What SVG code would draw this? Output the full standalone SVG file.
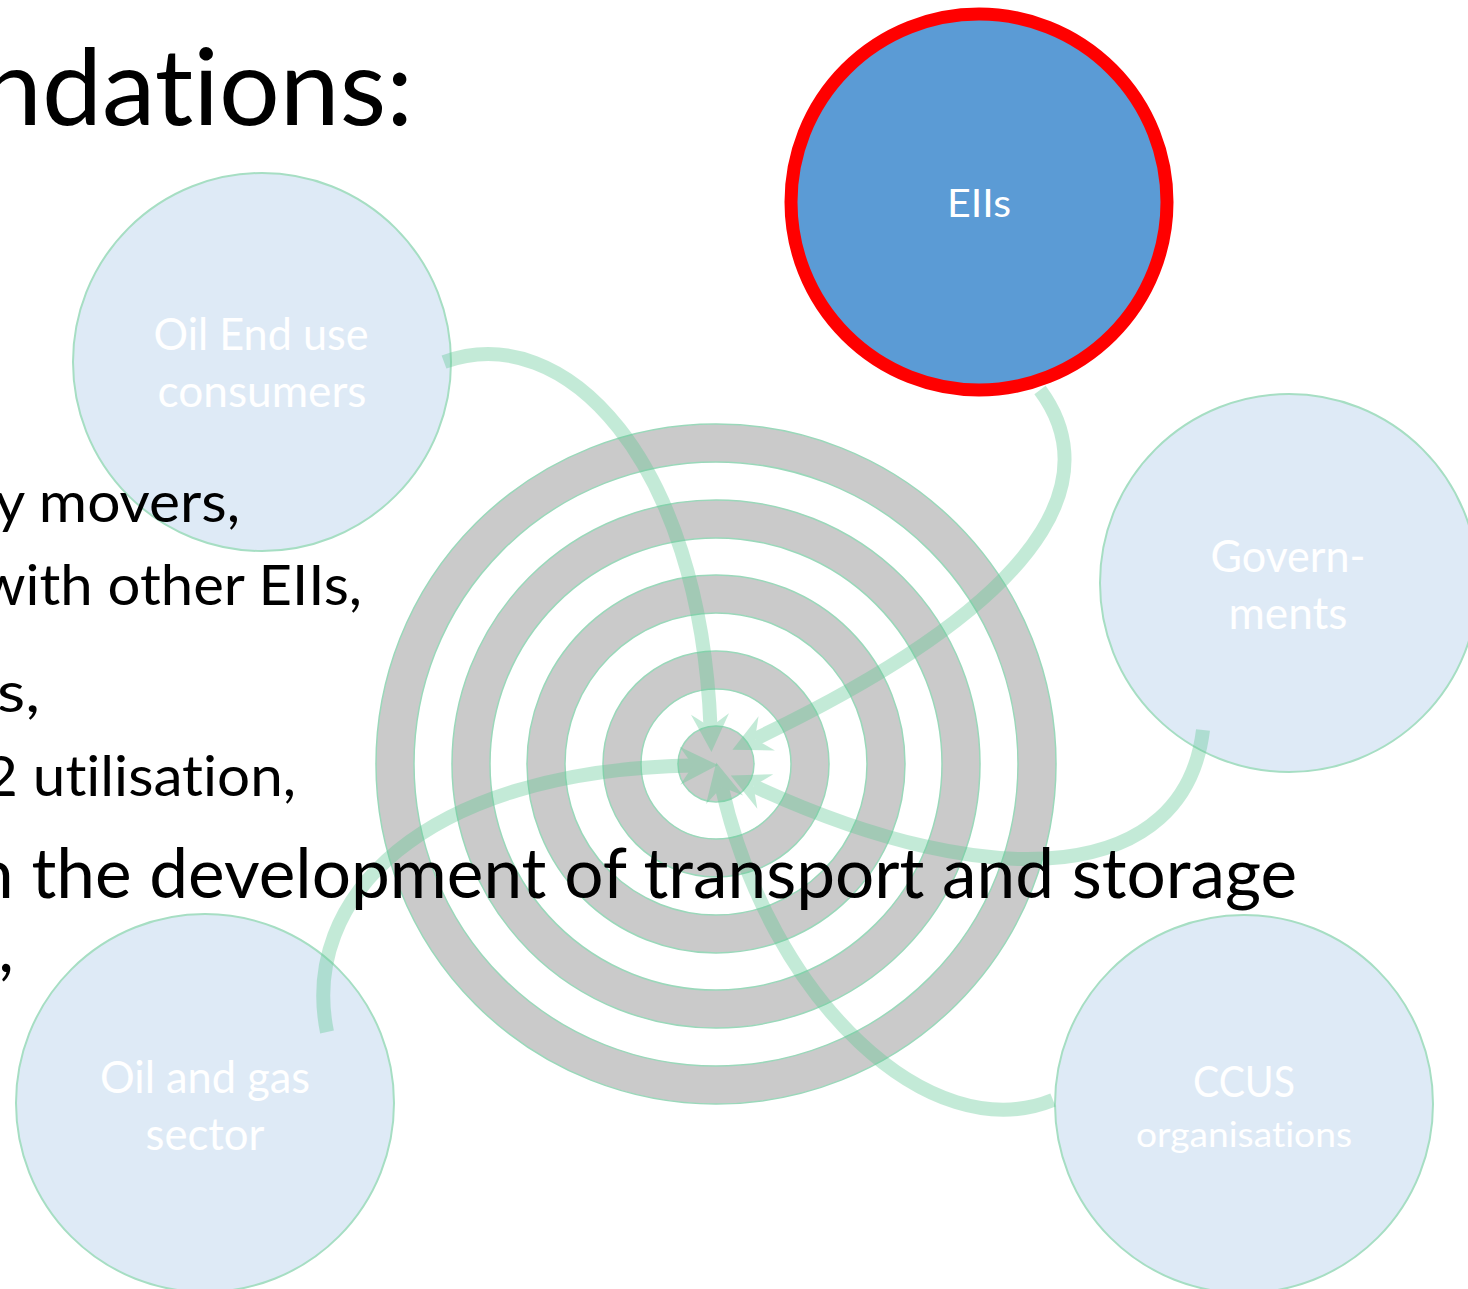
<svg xmlns="http://www.w3.org/2000/svg" width="1468" height="1289" viewBox="0 0 1468 1289">
  <style>
    .node { fill: #DEEAF6; stroke: #A6DEC3; stroke-width: 2; }
    .lbl { font-family: Lato, "Open Sans", sans-serif; fill: #FFFFFF; text-anchor: middle; font-variant-ligatures: none; }
    .ring { fill: #CACACA; fill-rule: evenodd; stroke: #9AD8BA; stroke-width: 1.5; }
    .arrow { fill: none; stroke: #5FC994; stroke-width: 14; stroke-linecap: butt; }
    .body { font-family: Lato, "Open Sans", sans-serif; fill: #000000; text-anchor: end; font-variant-ligatures: none; }
  </style>
  <defs>
    <marker id="head" markerUnits="userSpaceOnUse" markerWidth="60" markerHeight="60" viewBox="-20 -30 60 60" refX="0" refY="0" orient="auto">
      <path d="M25,0 L-13,-19 L0,0 L-13,19 Z" fill="#5FC994"/>
    </marker>
  </defs>
  <rect width="1468" height="1289" fill="#FFFFFF"/>

  <g id="target">
    <path class="ring" d="M376,764 a340,340 0 1,0 680,0 a340,340 0 1,0 -680,0 Z M414,764 a302,302 0 1,0 604,0 a302,302 0 1,0 -604,0 Z"/>
    <path class="ring" d="M452,764 a264,264 0 1,0 528,0 a264,264 0 1,0 -528,0 Z M490,764 a226,226 0 1,0 452,0 a226,226 0 1,0 -452,0 Z"/>
    <path class="ring" d="M527,764 a189,189 0 1,0 378,0 a189,189 0 1,0 -378,0 Z M565,764 a151,151 0 1,0 302,0 a151,151 0 1,0 -302,0 Z"/>
    <path class="ring" d="M603,764 a113,113 0 1,0 226,0 a113,113 0 1,0 -226,0 Z M641,764 a75,75 0 1,0 150,0 a75,75 0 1,0 -150,0 Z"/>
    <circle class="ring" cx="716" cy="764" r="38"/>
  </g>

  <g id="node-eiis">
    <circle cx="979" cy="202" r="188" fill="#5B9BD5" stroke="#FF0000" stroke-width="13"/>
    <text class="lbl" x="979" y="217" font-size="39" textLength="64" lengthAdjust="spacingAndGlyphs">EIIs</text>
  </g>
  <g id="node-oil-end-use">
    <circle class="node" cx="262" cy="362" r="189"/>
    <text class="lbl" x="261" y="350" font-size="44" textLength="215" lengthAdjust="spacingAndGlyphs">Oil End use</text>
    <text class="lbl" x="262" y="407" font-size="44" textLength="209" lengthAdjust="spacingAndGlyphs">consumers</text>
  </g>
  <g id="node-governments">
    <circle class="node" cx="1289" cy="583" r="189"/>
    <text class="lbl" x="1288" y="572" font-size="44" textLength="155" lengthAdjust="spacingAndGlyphs">Govern-</text>
    <text class="lbl" x="1288" y="629" font-size="44" textLength="119" lengthAdjust="spacingAndGlyphs">ments</text>
  </g>
  <g id="node-oil-gas">
    <circle class="node" cx="205" cy="1103" r="189"/>
    <text class="lbl" x="205" y="1093" font-size="44" textLength="210" lengthAdjust="spacingAndGlyphs">Oil and gas</text>
    <text class="lbl" x="205" y="1150" font-size="44" textLength="119" lengthAdjust="spacingAndGlyphs">sector</text>
  </g>
  <g id="node-ccus">
    <circle class="node" cx="1244" cy="1104" r="189"/>
    <text class="lbl" x="1244" y="1097" font-size="42" textLength="102" lengthAdjust="spacingAndGlyphs">CCUS</text>
    <text class="lbl" x="1244" y="1147" font-size="34" textLength="216" lengthAdjust="spacingAndGlyphs">organisations</text>
  </g>

  <g id="connectors">
    <g opacity="0.37"><path class="arrow" marker-end="url(#head)" d="M444,362 C565,318 700,460 710.5,727"/></g>
    <g opacity="0.37"><path class="arrow" marker-end="url(#head)" d="M1040,390 C1092,460 1088,580 755,739"/></g>
    <g opacity="0.37"><path class="arrow" marker-end="url(#head)" d="M1203,730 C1185,880 1000,900 753.5,786"/></g>
    <g opacity="0.37"><path class="arrow" marker-end="url(#head)" d="M1053,1100 C930,1150 770,1000 721.75,787"/></g>
    <g opacity="0.37"><path class="arrow" marker-end="url(#head)" d="M327,1032 C300,900 420,770 693,765.5"/></g>
  </g>

  <g id="body-text">
    <text class="body" x="413" y="125" font-size="106" textLength="431" lengthAdjust="spacingAndGlyphs">ndations:</text>
    <text class="body" x="240" y="522" font-size="57" textLength="245" lengthAdjust="spacingAndGlyphs">y movers,</text>
    <text class="body" x="362" y="605" font-size="57" textLength="382" lengthAdjust="spacingAndGlyphs">with other EIIs,</text>
    <text class="body" x="40" y="712" font-size="57" textLength="43" lengthAdjust="spacingAndGlyphs">s,</text>
    <text class="body" x="296" y="796" font-size="57" textLength="312" lengthAdjust="spacingAndGlyphs">2 utilisation,</text>
    <text class="body" x="1297" y="898" font-size="69" textLength="1322" lengthAdjust="spacingAndGlyphs">n the development of transport and storage</text>
    <text class="body" x="14" y="972" font-size="69">,</text>
  </g>
</svg>
